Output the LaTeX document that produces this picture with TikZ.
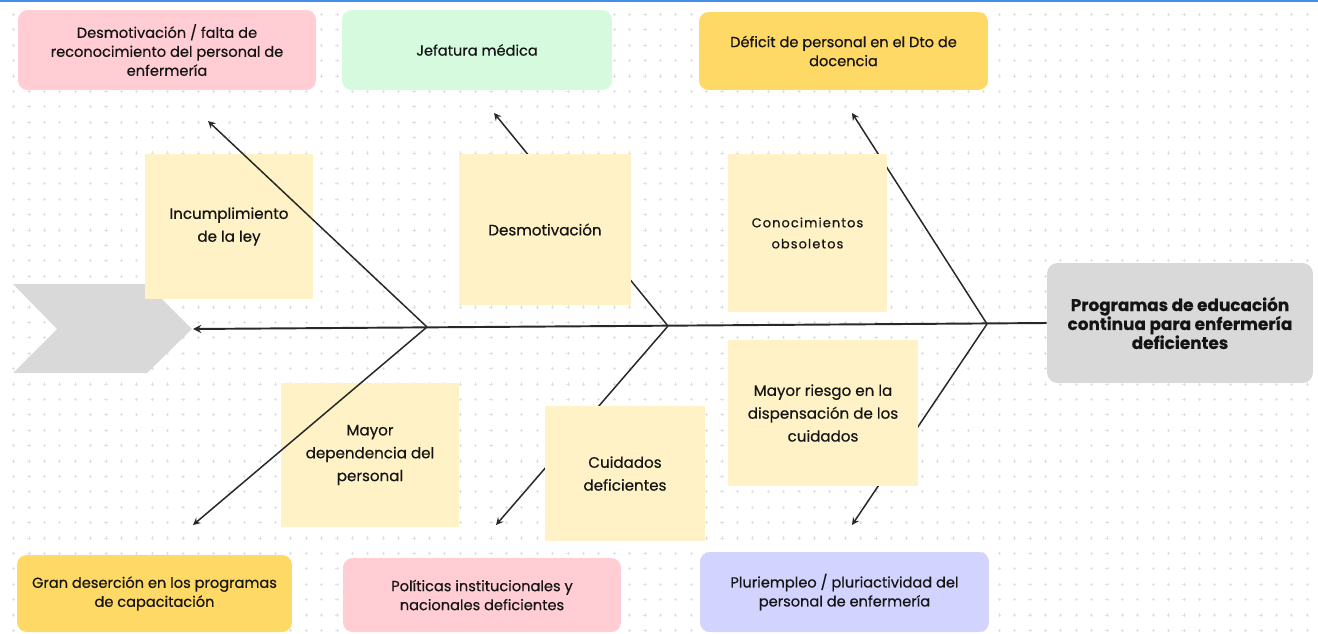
\documentclass[tikz,border=0pt]{standalone}
\usepackage{fontspec}
\setmainfont{Poppins}[FakeBold=0.45]
\newfontfamily\spacedfont[LetterSpace=9,FakeBold=0.6]{Poppins}
\usetikzlibrary{arrows,positioning}
\definecolor{pinkbox}{RGB}{255,205,211}
\definecolor{mintbox}{RGB}{214,250,222}
\definecolor{goldbox}{RGB}{255,217,102}
\definecolor{lilacbox}{RGB}{210,212,255}
\definecolor{notecol}{RGB}{255,242,198}
\definecolor{headgray}{RGB}{217,217,217}
\definecolor{dotgray}{RGB}{222,224,232}
\definecolor{bonecol}{RGB}{40,40,40}
\definecolor{topblue}{RGB}{66,142,230}
\tikzstyle{causebox}=[rectangle,rounded corners=5.5pt,align=center,text=black!92,inner sep=0pt,font=\fontsize{8.3}{10.8}\selectfont]
\tikzstyle{note}=[rectangle,fill=notecol,align=center,text=black!92,inner sep=0pt,font=\fontsize{8.6}{13}\selectfont]
\tikzstyle{bone}=[bonecol,line width=0.85pt,->]

\begin{document}
\begin{tikzpicture}[x=0.02cm,y=-0.02cm,>=stealth]
  \useasboundingbox (0,0) rectangle (1318,633);

  % background dots
  \draw[dotgray,line width=0.4pt] \foreach \x in {13.5,28.9,...,1318} { \foreach \y in {14.3,29.7,...,633} { (\x-1.6,\y) -- (\x+1.6,\y) (\x,\y-1.6) -- (\x,\y+1.6) } };
  \fill[topblue] (0,0) rectangle (1318,2);

  % tail
  \fill[headgray] (13,284) -- (147,284) -- (192,329) -- (147,373) -- (13,373) -- (57,329) -- cycle;

  % first pair of notes (under the bones)
  \node[note,minimum width=3.36cm,minimum height=2.9cm] (ley) at (229,226.5) {Incumplimiento\\ de la ley};
  \node[note,minimum width=3.56cm,minimum height=2.88cm] (depend) at (370,455) {Mayor\\ dependencia del\\ personal};

  % head
  \node[causebox,fill=headgray,rounded corners=6pt,minimum width=5.32cm,minimum height=2.4cm,font=\fontsize{9.6}{10.8}\selectfont\bfseries] (head) at (1180,323) {Programas de educación\\ continua para enfermería\\ deficientes};

  % spine and bones
  \coordinate (tail) at (193,329);
  \coordinate (j1) at (427,327);
  \coordinate (j2) at (668,326);
  \coordinate (j3) at (987,324);
  \coordinate (t1) at (208,121);
  \coordinate (b1) at (193,525);
  \coordinate (t2) at (494,113);
  \coordinate (b2) at (496,525);
  \coordinate (t3) at (852,113);
  \coordinate (b3) at (852,525);

  \draw[bone,line width=1.1pt] (head.west) -- (tail);
  \foreach \j/\t/\b in {j1/t1/b1,j2/t2/b2,j3/t3/b3} {
    \draw[bone] (\j) -- (\t);
    \draw[bone] (\j) -- (\b);
  }

  % other notes (over the bones)
  \node[note,minimum width=3.44cm,minimum height=3.02cm] (desmot) at (545,229.5) {Desmotivación};
  \node[note,minimum width=3.18cm,minimum height=3.16cm,font=\fontsize{7.3}{12}\spacedfont] (obsol) at (807.5,233) {Conocimientos\\ obsoletos};
  \node[note,minimum width=3.8cm,minimum height=2.92cm] (riesgo) at (823,413) {Mayor riesgo en la\\ dispensación de los\\ cuidados};
  \node[note,minimum width=3.2cm,minimum height=2.7cm] (cuidados) at (625,473.5) {Cuidados\\ deficientes};

  % top causes
  \node[causebox,fill=pinkbox,minimum width=5.96cm,minimum height=1.6cm] (falta) at (167,50) {Desmotivación / falta de\\ reconocimiento del personal de\\ enfermería};
  \node[causebox,fill=mintbox,minimum width=5.4cm,minimum height=1.6cm] (jefatura) at (477,50) {Jefatura médica};
  \node[causebox,fill=goldbox,minimum width=5.78cm,minimum height=1.56cm] (deficit) at (843.5,51) {Déficit de personal en el Dto de\\ docencia};

  % bottom causes
  \node[causebox,fill=goldbox,minimum width=5.5cm,minimum height=1.54cm] (desercion) at (154.5,593.5) {Gran deserción en los programas\\ de capacitación};
  \node[causebox,fill=pinkbox,minimum width=5.56cm,minimum height=1.48cm] (politicas) at (482,595) {Políticas institucionales y\\ nacionales deficientes};
  \node[causebox,fill=lilacbox,minimum width=5.78cm,minimum height=1.6cm] (pluri) at (844.5,592) {Pluriempleo / pluriactividad del\\ personal de enfermería};

\end{tikzpicture}
\end{document}
